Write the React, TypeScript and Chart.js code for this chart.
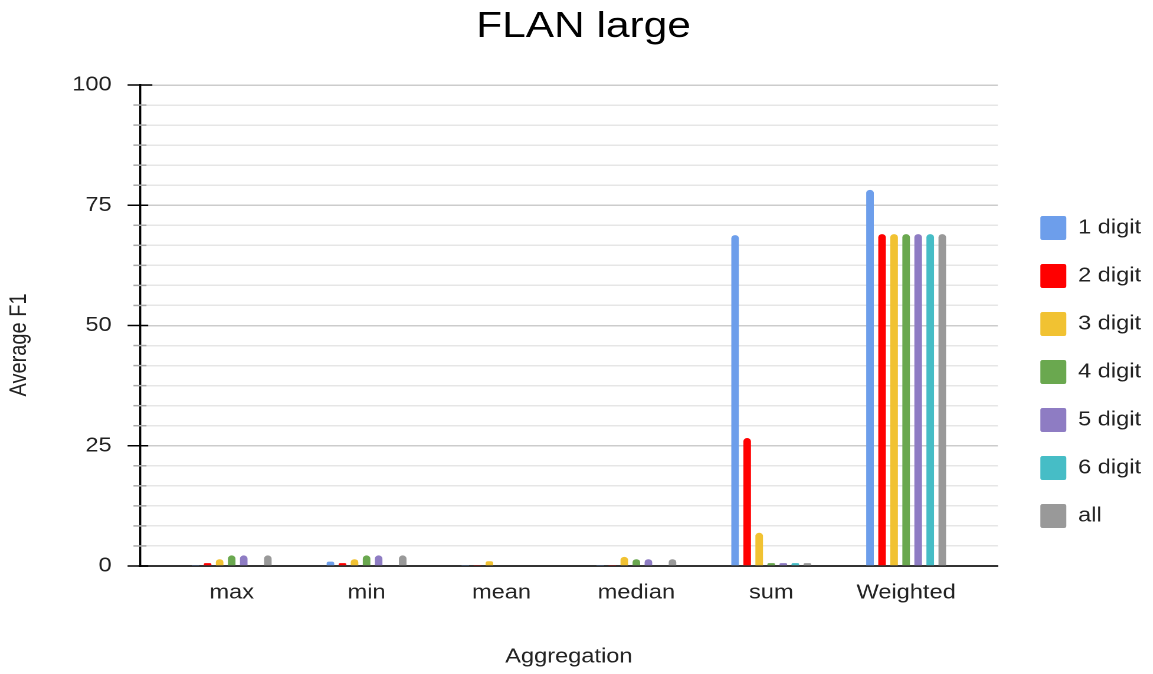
import React, { useEffect, useRef } from 'react';
import { Chart, registerables } from 'chart.js';

Chart.register(...registerables);

// The reference is horizontally stretched (~1.18x); we draw at a base width and stretch with CSS.
const SX = 1.18;
const BASE_W = 977;
const H = 674;
const FONT = '"Liberation Sans", Arial, sans-serif';

const categories = ['max', 'min', 'mean', 'median', 'sum', 'Weighted'];
const seriesNames = ['1 digit', '2 digit', '3 digit', '4 digit', '5 digit', '6 digit', 'all'];
const seriesColors = ['#6d9eeb', '#ff0000', '#f1c232', '#6aa84f', '#8e7cc3', '#46bdc6', '#999999'];

const digit1 = [0.1, 0.9, 0.1, 0.1, 68.8, 78.2];
const digit2 = [0.6, 0.6, 0.1, 0.1, 26.6, 69.0];
const digit3 = [1.4, 1.4, 1.0, 1.9, 6.9, 69.0];
const digit4 = [2.2, 2.2, 0, 1.4, 0.6, 69.0];
const digit5 = [2.2, 2.2, 0, 1.4, 0.6, 69.0];
const digit6 = [0, 0, 0, 0, 0.6, 69.0];
const allDigits = [2.2, 2.2, 0, 1.4, 0.6, 69.0];
const seriesValues = [digit1, digit2, digit3, digit4, digit5, digit6, allDigits];

const yMajorTicks = [0, 25, 50, 75, 100];
const minorPerMajor = 6;

const yTickValues: number[] = [];
for (let i = 0; i < yMajorTicks.length - 1; i++) {
  const a = yMajorTicks[i];
  const b = yMajorTicks[i + 1];
  for (let k = 0; k < minorPerMajor; k++) yTickValues.push(a + ((b - a) * k) / minorPerMajor);
}
yTickValues.push(yMajorTicks[yMajorTicks.length - 1]);

const isMajor = (v: number) => yMajorTicks.some((m) => Math.abs(m - v) < 1e-6);

export default function App() {
  const ref = useRef<HTMLCanvasElement>(null);

  useEffect(() => {
    document.body.style.margin = '0';
    document.body.style.overflow = 'hidden';
    const canvas = ref.current;
    if (!canvas) return;

    const tickPlugin = {
      id: 'yAxisTicks',
      afterDraw(chart: any) {
        const ys = chart.scales.y;
        const ctx = chart.ctx;
        const x0 = chart.chartArea.left;
        ctx.save();
        for (const t of ys.ticks) {
          const py = ys.getPixelForValue(t.value);
          ctx.beginPath();
          if (isMajor(t.value)) {
            ctx.strokeStyle = '#000';
            ctx.lineWidth = 1.5;
            const right = t.value === 100 ? 10.5 : 7;
            ctx.moveTo(x0 - 10.5, py);
            ctx.lineTo(x0 + right, py);
          } else {
            ctx.strokeStyle = '#aaaaaa';
            ctx.lineWidth = 1.5;
            ctx.moveTo(x0 - 5.5, py);
            ctx.lineTo(x0 + 5.5, py);
          }
          ctx.stroke();
        }
        ctx.restore();
      },
    };

    const chart = new Chart(canvas, {
      type: 'bar',
      data: {
        labels: categories,
        datasets: seriesNames.map((name, i) => ({
          label: name,
          data: seriesValues[i],
          backgroundColor: seriesColors[i],
          borderColor: seriesColors[i],
          borderWidth: 0,
          borderSkipped: 'start',
          borderRadius: { topLeft: 3.2, topRight: 3.2, bottomLeft: 0, bottomRight: 0 },
          categoryPercentage: 0.625,
          barPercentage: 0.63,
        })),
      },
      options: {
        responsive: false,
        animation: false,
        devicePixelRatio: 2,
        layout: { padding: { left: 12, right: 0, top: 0, bottom: 0 } },
        plugins: {
          title: {
            display: true,
            text: 'FLAN large',
            color: '#000',
            font: { size: 36, family: FONT, weight: 'normal' },
            padding: { top: 5.5, bottom: 36.3 },
          },
          legend: {
            position: 'right',
            title: {
              display: true,
              text: ' ',
              font: { size: 20, family: FONT },
              padding: 23,
            },
            labels: {
              boxWidth: 22,
              boxHeight: 24,
              padding: 24,
              color: '#222',
              font: { size: 20, family: FONT },
              useBorderRadius: true,
              borderRadius: 2,
            },
          },
          tooltip: { enabled: false },
        },
        scales: {
          x: {
            type: 'category',
            offset: true,
            grid: { display: true, drawOnChartArea: false, drawTicks: false },
            border: { display: true, color: '#333333', width: 2 },
            ticks: {
              color: '#222',
              font: { size: 20, family: FONT },
              padding: 15,
              maxRotation: 0,
              autoSkip: false,
            },
            title: {
              display: true,
              text: 'Aggregation',
              color: '#222',
              font: { size: 20, family: FONT },
              padding: { top: 0, bottom: 5 },
            },
            afterBuildTicks: (s: any) => {
              s._startValue = -0.68;
              s._valueRange = 6.36;
            },
            afterFit: (s: any) => {
              s.height = 108;
            },
          },
          y: {
            min: 0,
            max: 100,
            afterBuildTicks: (s: any) => {
              s.ticks = yTickValues.map((v) => ({ value: v }));
            },
            grid: {
              color: (c: any) => (c.tick && isMajor(c.tick.value) ? '#cccccc' : '#e6e6e6'),
              lineWidth: 1.5,
              drawTicks: false,
            },
            border: { display: true, color: '#000', width: 1.7 },
            ticks: {
              autoSkip: false,
              color: '#222',
              font: { size: 20, family: FONT },
              padding: 24,
              callback: (v: any) => (isMajor(Number(v)) ? String(Math.round(Number(v))) : ''),
            },
            title: {
              display: true,
              text: 'Average F1       ',
              color: '#222',
              font: { size: 20, family: FONT },
              padding: { top: -7.6, bottom: 0 },
            },
            afterFit: (s: any) => {
              s.width = 106.6;
            },
          },
          y2: {
            position: 'right',
            display: true,
            grid: { display: false, drawTicks: false },
            border: { display: false },
            ticks: { display: false },
            afterFit: (s: any) => {
              s.width = 12;
            },
          },
        },
      },
      plugins: [tickPlugin],
    } as any);

    return () => chart.destroy();
  }, []);

  return (
    <div
      style={{
        width: BASE_W,
        height: H,
        transform: `scaleX(${SX})`,
        transformOrigin: '0 0',
      }}
    >
      <canvas ref={ref} width={BASE_W} height={H} style={{ display: 'block', width: BASE_W, height: H }} />
    </div>
  );
}
